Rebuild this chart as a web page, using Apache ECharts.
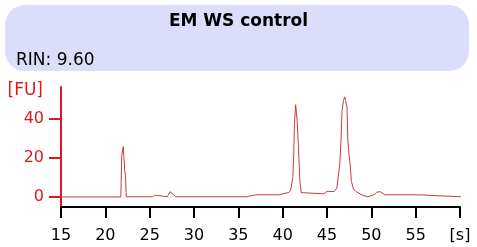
<!DOCTYPE html>
<html>
<head>
<meta charset="utf-8">
<script src="https://cdn.jsdelivr.net/npm/echarts@6/dist/echarts.min.js"></script>
<style>
  html, body { margin: 0; padding: 0; background: #fff; }
  #chart { width: 477px; height: 247px; }
</style>
</head>
<body>
<div id="chart"></div>
<script>
  // electropherogram trace, time [s] and fluorescence [FU]
  const times = [
    15.0, 21.75, 21.85, 21.95, 22.02, 22.1, 22.2, 22.28, 22.35,
    25.3, 25.45, 25.65, 25.8, 27.0, 27.15, 27.3, 27.5, 27.6, 27.8, 27.95,
    35.9, 36.0, 36.8, 36.9, 37.0, 37.1, 39.6, 39.7, 40.7, 40.9, 41.05,
    41.15, 41.25, 41.33, 41.46, 41.55, 41.65, 41.75, 41.85, 41.95, 42.1, 42.3,
    44.7, 44.9, 45.8, 46.1, 46.3, 46.45, 46.58, 46.7, 46.85, 47.0, 47.1,
    47.25, 47.35, 47.5, 47.6, 47.75, 48.0, 48.3, 48.6, 49.0, 49.2,
    49.6, 49.7, 50.4, 50.6, 51.0, 51.2, 51.5, 55.2, 55.3, 60.1
  ]
  const fu = [
    0.1, 0.1, 21, 24, 25.7, 20, 13, 11, 0.2,
    0.2, 1.2, 1.0, 0.2, 0.2, 1.5, 2.8, 2.5, 1.6, 1.3, 0.2,
    0.2, 1.1, 1.1, 0.5, 0.5, 1.2, 1.2, 2.2, 2.4, 3.6, 4.5,
    10, 22, 37, 47, 43, 38, 28, 18, 7.5, 2.3, 1.7,
    1.7, 2.8, 2.9, 4.5, 5, 17, 29, 44, 49, 51, 49,
    46, 29, 21, 17, 8, 4, 2.8, 2.0, 1.0, 0.2,
    0.2, 1.2, 1.4, 2.5, 2.8, 2.4, 1.2, 1.2, 0.2, 0.2
  ]
  const yTicks = [0, 20, 40]
  const sampleName = 'EM WS control'
  const rinText = 'RIN: 9.60'

  const red = '#e0191e'
  const font = 'DejaVu Sans'

  const mychart = echarts.init(document.getElementById('chart'))
  const option = {
    animation: false,
    graphic: [
      {
        type: 'rect',
        z: 0,
        shape: { x: 5, y: 5, width: 464, height: 66, r: 20 },
        style: { fill: '#dcdcfb' },
      },
    ],
    title: [
      {
        text: sampleName,
        left: 'center',
        top: 13,
        padding: 0,
        textStyle: { fontFamily: font, fontSize: 17, fontWeight: 'bold', color: '#000' },
      },
      {
        text: rinText,
        left: 16,
        top: 52,
        padding: 0,
        textStyle: { fontFamily: font, fontSize: 17, fontWeight: 'normal', color: '#000' },
      },
    ],
    grid: {
      left: 61,
      right: 17,
      top: 87,
      bottom: 40,
    },
    xAxis: {
      type: 'value',
      min: 15,
      max: 60,
      interval: 5,
      axisLine: { onZero: false, lineStyle: { color: '#000', width: 2 } },
      axisTick: { length: 11, lineStyle: { color: '#000', width: 2 } },
      axisLabel: {
        margin: 21,
        color: '#000',
        fontFamily: font,
        fontSize: 16,
        formatter: (v) => (v === 60 ? '[s]' : v),
      },
      splitLine: { show: false },
    },
    yAxis: {
      type: 'value',
      min: -5,
      max: 56,
      name: '[FU]',
      nameLocation: 'end',
      nameGap: -4,
      nameTextStyle: {
        color: red,
        fontFamily: font,
        fontSize: 17,
        align: 'right',
        verticalAlign: 'middle',
        padding: [0, 18, 0, 0],
      },
      axisLine: { show: true, lineStyle: { color: red, width: 2 } },
      axisTick: { show: true, length: 12, customValues: yTicks, lineStyle: { color: red, width: 2 } },
      axisLabel: {
        margin: 17,
        color: red,
        fontFamily: font,
        fontSize: 16,
        customValues: yTicks,
      },
      splitLine: { show: false },
    },
    series: [
      {
        type: 'line',
        data: times.map((t, i) => [t, fu[i]]),
        showSymbol: false,
        lineStyle: { color: '#c83c3c', width: 1 },
      },
    ],
  }
  mychart.setOption(option)
</script>
</body>
</html>
